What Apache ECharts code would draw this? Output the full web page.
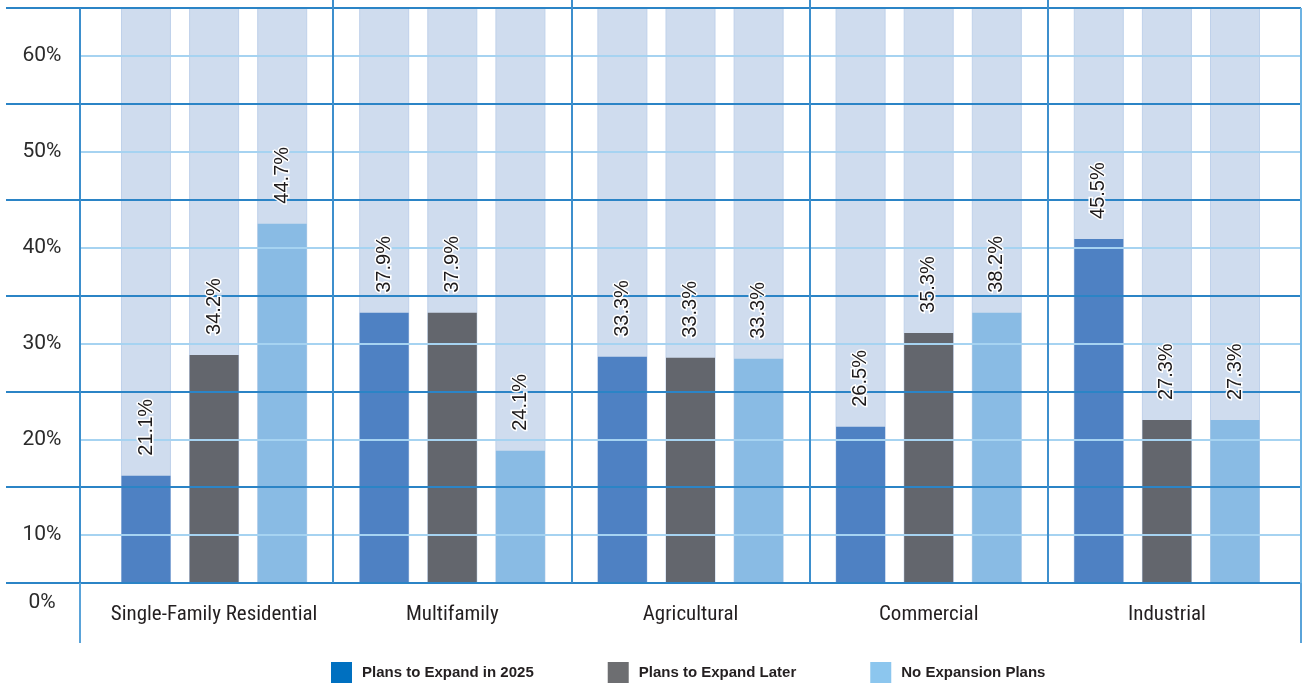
<!DOCTYPE html>
<html>
<head>
<meta charset="utf-8">
<script src="https://cdn.jsdelivr.net/npm/echarts@6.0.0/dist/echarts.min.js"></script>
<style>
html, body { margin: 0; padding: 0; background: #fff; }
#main { width: 1312px; height: 684px; }
</style>
</head>
<body>
<div id="main"></div>
<script>
// categories and series
var categories = ['Single-Family Residential', 'Multifamily', 'Agricultural', 'Commercial', 'Industrial'];
var seriesNames = ['Plans to Expand in 2025', 'Plans to Expand Later', 'No Expansion Plans'];

// bar heights as drawn, read against the printed y axis
var expand2025 = [16.2, 33.2, 28.6, 21.3, 40.9];
var expandLater = [28.8, 33.2, 28.5, 31.1, 22.0];
var noExpansion = [42.5, 18.8, 28.4, 33.2, 22.0];

// values printed above the bars
var expand2025Labels = ['21.1%', '37.9%', '33.3%', '26.5%', '45.5%'];
var expandLaterLabels = ['34.2%', '37.9%', '33.3%', '35.3%', '27.3%'];
var noExpansionLabels = ['44.7%', '24.1%', '33.3%', '38.2%', '27.3%'];

// y tick labels (value on the axis -> text)
var yTickValues = [5, 10, 20, 30, 40, 50, 60];
var yTickLabels = ['0%', '10%', '20%', '30%', '40%', '50%', '60%'];

var darkLine = '#2b84c6';
var lightLine = '#a6d3f1';
var colLine = '#3d8fcd';

var myChart = echarts.init(document.getElementById('main'));

function barSeries(name, values, color) {
    return {
        name: name,
        type: 'bar',
        xAxisIndex: 1,
        yAxisIndex: 2,
        stack: name,
        data: values,
        barWidth: 49,
        barGap: '39%',
        itemStyle: { color: color },
        showBackground: true,
        backgroundStyle: { color: '#cfdcee', borderColor: '#bfd1ea', borderWidth: 1 },
        z: 2
    };
}

// zero height bars stacked on top, only to carry the labels above the grid lines
function labelSeries(name, values, labels) {
    return {
        name: name + ' label',
        type: 'bar',
        xAxisIndex: 1,
        yAxisIndex: 2,
        stack: name,
        data: values.map(function () { return 0; }),
        barWidth: 49,
        barGap: '39%',
        itemStyle: { color: 'rgba(0,0,0,0)' },
        z: 6,
        label: {
            show: true,
            position: 'top',
            distance: 20,
            rotate: 90,
            align: 'left',
            verticalAlign: 'middle',
            fontFamily: 'Liberation Sans, Arial, sans-serif',
            fontSize: 20,
            color: '#1e1b1c',
            textBorderColor: '#fff',
            textBorderWidth: 3,
            formatter: function (p) { return labels[p.dataIndex]; }
        }
    };
}

var option = {
    animation: false,
    grid: [
        { left: 80, right: 11, top: 8, bottom: 101 },
        { left: 95, right: 26, top: 8, bottom: 101 }
    ],
    legend: {
        left: 331,
        top: 662,
        padding: 0,
        icon: 'rect',
        itemWidth: 21,
        itemHeight: 21,
        itemGap: 74,
        textStyle: {
            fontFamily: 'Liberation Sans, Arial, sans-serif',
            fontWeight: 'bold',
            fontSize: 15,
            color: '#231f20',
            padding: [0, 0, 0, 5]
        },
        data: [
            { name: seriesNames[0], itemStyle: { color: '#0070c0' } },
            { name: seriesNames[1], itemStyle: { color: '#6d6e71' } },
            { name: seriesNames[2], itemStyle: { color: '#8cc6ee' } }
        ]
    },
    xAxis: [
        {   // outer frame lines
            gridIndex: 0, type: 'value', min: 0, max: 1, interval: 1,
            axisLine: { show: false },
            axisLabel: { show: false },
            axisTick: { show: true, length: 60, lineStyle: { color: '#5aa3d9', width: 2 } },
            splitLine: { show: true, lineStyle: { color: ['#3d8fcd', '#6db3e3'], width: 2 } },
            z: 3
        },
        {   // categories
            gridIndex: 1, type: 'category', data: categories,
            axisLine: { show: false },
            axisTick: { show: false },
            splitLine: { show: false },
            axisLabel: {
                interval: 0,
                margin: 21,
                fontFamily: 'Liberation Sans Narrow, Roboto Condensed, DejaVu Sans Condensed, sans-serif',
                fontSize: 21,
                color: '#231f20'
            }
        },
        {   // column separators
            gridIndex: 1, type: 'category', boundaryGap: false,
            data: ['b0', 'b1', 'b2', 'b3', 'b4', 'b5'],
            axisLine: { show: false },
            axisLabel: { show: false },
            axisTick: {
                show: true, length: 60,
                interval: function (i) { return i > 0 && i < 5; },
                lineStyle: { color: colLine, width: 2 }
            },
            splitLine: {
                show: true,
                interval: function (i) { return i > 0 && i < 5; },
                lineStyle: { color: colLine, width: 2 }
            },
            z: 3
        }
    ],
    yAxis: [
        {   // gridlines and tick labels
            gridIndex: 0, type: 'value', position: 'left', min: 5, max: 65, interval: 5,
            axisLine: { show: false },
            axisTick: { show: false },
            axisLabel: {
                margin: 38,
                align: 'center',
                fontFamily: 'Roboto, sans-serif',
                fontSize: 21,
                color: '#2b2b2b',
                formatter: function (v) {
                    var i = yTickValues.indexOf(v);
                    if (i < 0) return '';
                    return i === 0 ? '{z|' + yTickLabels[i] + '}' : yTickLabels[i];
                },
                rich: {
                    z: { fontFamily: 'Roboto, sans-serif', fontSize: 21, color: '#2b2b2b', padding: [40, 0, 0, 0] }
                }
            },
            splitLine: { show: true, lineStyle: { color: [darkLine, lightLine], width: 2 } },
            z: 3
        },
        {   // left stubs of the dark gridlines
            gridIndex: 0, type: 'value', position: 'left', offset: 0, min: 0, max: 6, interval: 1,
            axisLine: { show: false },
            axisLabel: { show: false },
            splitLine: { show: false },
            axisTick: { show: true, length: 74, lineStyle: { color: darkLine, width: 2 } },
            z: 3
        },
        {   // value axis for the bars
            gridIndex: 1, type: 'value', min: 5, max: 65, show: false
        }
    ],
    series: [
        barSeries(seriesNames[0], expand2025, '#4e81c3'),
        barSeries(seriesNames[1], expandLater, '#63666d'),
        barSeries(seriesNames[2], noExpansion, '#89bbe4'),
        labelSeries(seriesNames[0], expand2025, expand2025Labels),
        labelSeries(seriesNames[1], expandLater, expandLaterLabels),
        labelSeries(seriesNames[2], noExpansion, noExpansionLabels)
    ]
};

myChart.setOption(option);
</script>
</body>
</html>
